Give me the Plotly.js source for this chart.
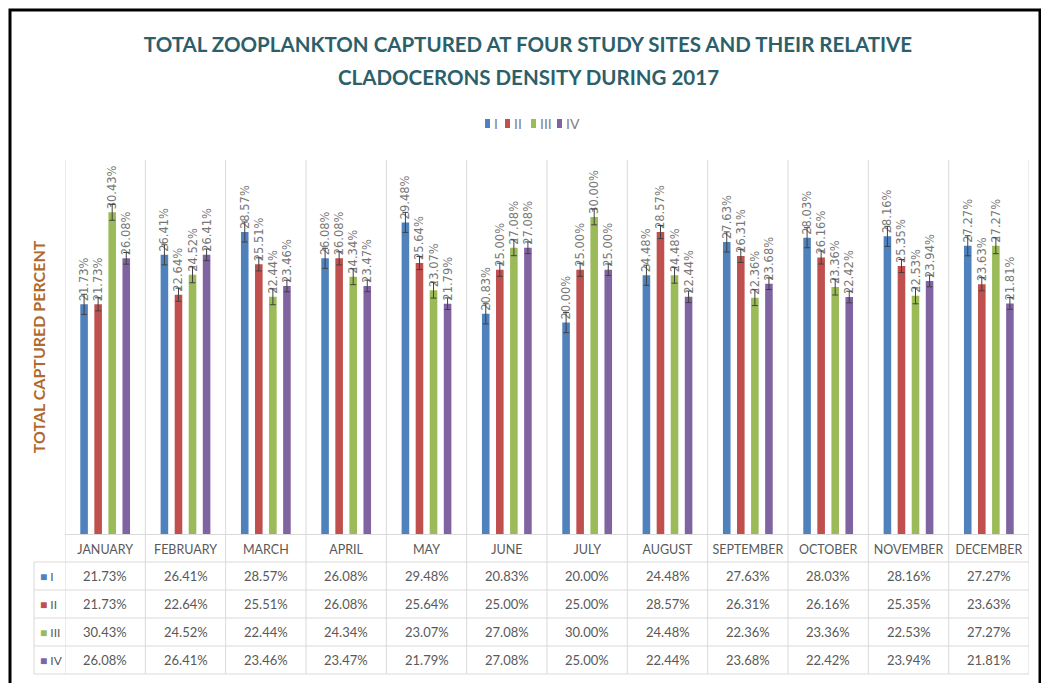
<!DOCTYPE html>
<html>
<head>
<meta charset="utf-8">
<script src="https://cdn.plot.ly/plotly-3.0.1.min.js"></script>
<style>html,body{margin:0;padding:0;background:#fff;}#chart{width:1041px;height:683px;}</style>
</head>
<body>
<div id="chart"></div>
<script>
const months = ['JANUARY','FEBRUARY','MARCH','APRIL','MAY','JUNE','JULY','AUGUST','SEPTEMBER','OCTOBER','NOVEMBER','DECEMBER'];
const seriesNames = ['I','II','III','IV'];
const siteI   = [21.73, 26.41, 28.57, 26.08, 29.48, 20.83, 20.00, 24.48, 27.63, 28.03, 28.16, 27.27];
const siteII  = [21.73, 22.64, 25.51, 26.08, 25.64, 25.00, 25.00, 28.57, 26.31, 26.16, 25.35, 23.63];
const siteIII = [30.43, 24.52, 22.44, 24.34, 23.07, 27.08, 30.00, 24.48, 22.36, 23.36, 22.53, 27.27];
const siteIV  = [26.08, 26.41, 23.46, 23.47, 21.79, 27.08, 25.00, 22.44, 23.68, 22.42, 23.94, 21.81];
const stdErr  = [0.95, 0.62, 0.75, 0.55];

const allSeries = [siteI, siteII, siteIII, siteIV];
const colors = ['#4F81BD', '#C0504D', '#9BBB59', '#8064A2'];

// pixel helpers for the plot area (top 160, bottom 534, left 65, right 1029)
const PT = 160, PB = 534, PL = 65, PR = 1029;
const py = p => (PB - p) / (PB - PT);
const px = p => (p - PL) / (PR - PL);

const traces = allSeries.map((vals, k) => ({
  type: 'bar',
  name: seriesNames[k],
  x: months,
  y: vals,
  marker: {color: colors[k]},
  error_y: {type: 'constant', value: stdErr[k], color: '#404040', thickness: 1, width: 3},
  texttemplate: '%{y:.2f}%',
  textposition: 'outside',
  textangle: -90,
  constraintext: 'none',
  cliponaxis: false,
  textfont: {family: 'DejaVu Sans', size: 11.5, color: '#777777'},
  hoverinfo: 'x+y+name',
  showlegend: false
}));

const shapes = [];
const lineCol = '#d9d9d9';
// vertical category separators extending through the table
for (let i = 0; i <= months.length; i++) {
  shapes.push({type: 'line', xref: 'x', yref: 'paper', x0: i - 0.5, x1: i - 0.5, y0: py(674), y1: 1,
    line: {color: lineCol, width: 1}});
}
// table horizontal lines
[562, 590, 618, 646, 674].forEach(p => {
  shapes.push({type: 'line', xref: 'paper', yref: 'paper', x0: px(34), x1: 1, y0: py(p), y1: py(p),
    line: {color: lineCol, width: 1}});
});
// table left border
shapes.push({type: 'line', xref: 'paper', yref: 'paper', x0: px(34), x1: px(34), y0: py(562), y1: py(674),
  line: {color: lineCol, width: 1}});
// outer black frame
shapes.push({type: 'rect', xref: 'paper', yref: 'paper', x0: px(10), x1: px(1040), y0: py(695), y1: py(10),
  line: {color: '#000', width: 3}, fillcolor: 'rgba(0,0,0,0)'});

const annotations = [];
const rowCenters = [576, 604, 632, 660];
allSeries.forEach((vals, k) => {
  vals.forEach((v, i) => {
    annotations.push({xref: 'x', yref: 'paper', x: months[i], y: py(rowCenters[k]),
      text: v.toFixed(2) + '%', showarrow: false, xanchor: 'center', yanchor: 'middle',
      font: {family: 'Lato', size: 13, color: '#595959'}});
  });
  annotations.push({xref: 'paper', yref: 'paper', x: px(38), y: py(rowCenters[k]),
    text: '<span style="color:' + colors[k] + '">■</span> ' + seriesNames[k], showarrow: false,
    xanchor: 'left', yanchor: 'middle', font: {family: 'Lato', size: 12, color: '#595959'}});
});
// compact legend (square + label) above the plot
const legendSquares = [485, 505, 531, 557];
seriesNames.forEach((n, k) => {
  shapes.push({type: 'rect', xref: 'paper', yref: 'paper', x0: px(legendSquares[k]), x1: px(legendSquares[k] + 5),
    y0: py(128), y1: py(119), fillcolor: colors[k], line: {width: 0}});
  annotations.push({xref: 'paper', yref: 'paper', x: px(legendSquares[k] + 7), y: py(123.5),
    xanchor: 'left', yanchor: 'middle', text: n, showarrow: false,
    font: {family: 'Lato', size: 14, color: '#808080'}});
});
// second title line
annotations.push({xref: 'paper', yref: 'paper', x: px(528), y: py(77), xanchor: 'center', yanchor: 'middle',
  text: 'CLADOCERONS DENSITY DURING 2017', showarrow: false,
  font: {family: 'Lato', size: 20.5, color: '#2d5f6b', weight: 'bold'}});

const layout = {
  width: 1041, height: 683,
  paper_bgcolor: '#fff', plot_bgcolor: '#fff',
  margin: {l: PL, r: 1041 - PR, t: PT, b: 683 - PB},
  title: {text: 'TOTAL ZOOPLANKTON CAPTURED AT FOUR STUDY SITES AND THEIR RELATIVE',
    x: 528 / 1041, xanchor: 'center', y: 1 - 45 / 683, yanchor: 'middle', xref: 'container', yref: 'container',
    font: {family: 'Lato', size: 20.5, color: '#2d5f6b', weight: 'bold'}},
  barmode: 'group', bargap: 0.30, bargroupgap: 0.46,
  showlegend: false,
  xaxis: {type: 'category', range: [-0.5, 11.5], showgrid: false, showline: true, linecolor: lineCol,
    ticks: '', ticklabelstandoff: 4, tickfont: {family: 'Lato', size: 12.5, color: '#595959'}, fixedrange: true},
  yaxis: {range: [0, (PB - PT) / 10.57], showgrid: false, zeroline: false, showticklabels: false, ticks: '',
    showline: false, fixedrange: true,
    title: {text: 'TOTAL CAPTURED PERCENT', standoff: 14,
      font: {family: 'Lato', size: 16, color: '#B0692D', weight: 'bold'}}},
  shapes: shapes,
  annotations: annotations
};

Plotly.newPlot('chart', traces, layout, {displayModeBar: false});
</script>
</body>
</html>
